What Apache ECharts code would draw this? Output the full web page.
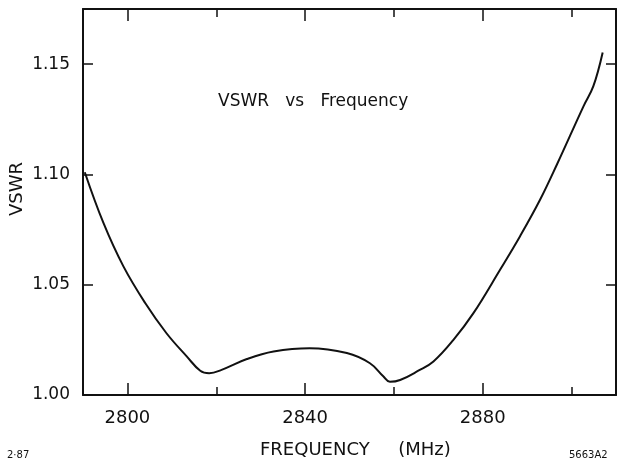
<!DOCTYPE html>
<html>
<head>
    <meta charset="utf-8">
    <title>VSWR vs Frequency</title>
    <script src="https://cdn.jsdelivr.net/npm/echarts@6/dist/echarts.min.js"></script>
    <style type="text/css">
        html, body {
            margin: 0;
            padding: 0;
            background: #fff;
        }
        #chart {
            width: 618px;
            height: 465px;
        }
    </style>
</head>
<body>
    <div id="chart"></div>
    <script type="text/javascript">
        // curve: frequency (MHz) and VSWR
        var freq = [2790.4, 2794.6, 2799.1, 2804.0, 2808.8, 2813.4, 2816.4, 2818.4, 2821.2, 2826.9,
                    2832.9, 2841.0, 2849.4, 2854.6, 2857.6, 2859.1, 2861.4, 2865.5, 2868.9, 2873.4,
                    2877.9, 2883.9, 2888.4, 2892.9, 2896.7, 2902.7, 2904.9, 2907.0];
        var vswr = [1.101, 1.078, 1.0583, 1.0417, 1.028, 1.0174, 1.011, 1.0099, 1.0114, 1.0163,
                    1.0197, 1.0212, 1.019, 1.0144, 1.0085, 1.006, 1.0068, 1.011, 1.0152, 1.025,
                    1.0371, 1.0568, 1.072, 1.0885, 1.1045, 1.131, 1.140, 1.1553];

        // ticks
        var xMajorTicks = [2800, 2840, 2880];
        var xMinorTicks = [2820, 2860, 2900];
        var yTicks = [1.00, 1.05, 1.10, 1.15];

        var xMin = 2790, xMax = 2910;
        var yMin = 1.00, yMax = 1.175;

        var ink = '#111';
        var fontName = 'DejaVu Sans';

        var points = [];
        for (var i = 0; i < freq.length; i++) {
            points.push([freq[i], vswr[i]]);
        }

        function xAxisDef(pos, ticks, len, showLine, showLabel) {
            return {
                type: 'value',
                position: pos,
                min: xMin,
                max: xMax,
                splitLine: { show: false },
                axisLine: { show: showLine, lineStyle: { color: ink, width: 2 } },
                axisTick: {
                    show: true,
                    inside: true,
                    length: len,
                    customValues: ticks,
                    lineStyle: { color: ink, width: 1.5 }
                },
                axisLabel: {
                    show: showLabel,
                    customValues: ticks,
                    margin: 14,
                    color: ink,
                    fontFamily: fontName,
                    fontSize: 18,
                    formatter: function (v) { return String(v); }
                }
            };
        }

        function yAxisDef(pos, showLabel) {
            return {
                type: 'value',
                position: pos,
                min: yMin,
                max: yMax,
                splitLine: { show: false },
                axisLine: { show: true, lineStyle: { color: ink, width: 2 } },
                axisTick: {
                    show: true,
                    inside: true,
                    length: 10,
                    customValues: yTicks,
                    lineStyle: { color: ink, width: 1.5 }
                },
                axisLabel: {
                    show: showLabel,
                    customValues: yTicks,
                    margin: 13,
                    color: ink,
                    fontFamily: fontName,
                    fontSize: 17,
                    formatter: function (v) { return v.toFixed(2); }
                }
            };
        }

        var chart = echarts.init(document.getElementById('chart'));
        chart.setOption({
            animation: false,
            backgroundColor: '#fff',
            grid: { left: 83, right: 2, top: 9, bottom: 70 },
            xAxis: [
                xAxisDef('bottom', xMajorTicks, 12, true, true),
                xAxisDef('bottom', xMinorTicks, 8, false, false),
                xAxisDef('top', xMajorTicks, 12, true, false),
                xAxisDef('top', xMinorTicks, 8, false, false)
            ],
            yAxis: [
                yAxisDef('left', true),
                yAxisDef('right', false)
            ],
            graphic: [
                {
                    type: 'text', left: 218, top: 93,
                    style: { text: 'VSWR   vs   Frequency', fill: ink, font: '17px "DejaVu Sans"' }
                },
                {
                    type: 'text', x: 17, y: 189, rotation: Math.PI / 2,
                    style: { text: 'VSWR', fill: ink, font: '18px "DejaVu Sans"', align: 'center', verticalAlign: 'middle' }
                },
                {
                    type: 'text', left: 260, top: 441,
                    style: { text: 'FREQUENCY     (MHz)', fill: ink, font: '18px "DejaVu Sans"' }
                },
                {
                    type: 'text', left: 7, top: 450,
                    style: { text: '2·87', fill: ink, font: '10px "DejaVu Sans"' }
                },
                {
                    type: 'text', left: 569, top: 450,
                    style: { text: '5663A2', fill: ink, font: '10px "DejaVu Sans"' }
                }
            ],
            series: [
                {
                    name: 'VSWR',
                    type: 'line',
                    xAxisIndex: 0,
                    yAxisIndex: 0,
                    data: points,
                    smooth: 0.4,
                    showSymbol: false,
                    lineStyle: { color: ink, width: 2 }
                }
            ]
        });
    </script>
</body>
</html>
